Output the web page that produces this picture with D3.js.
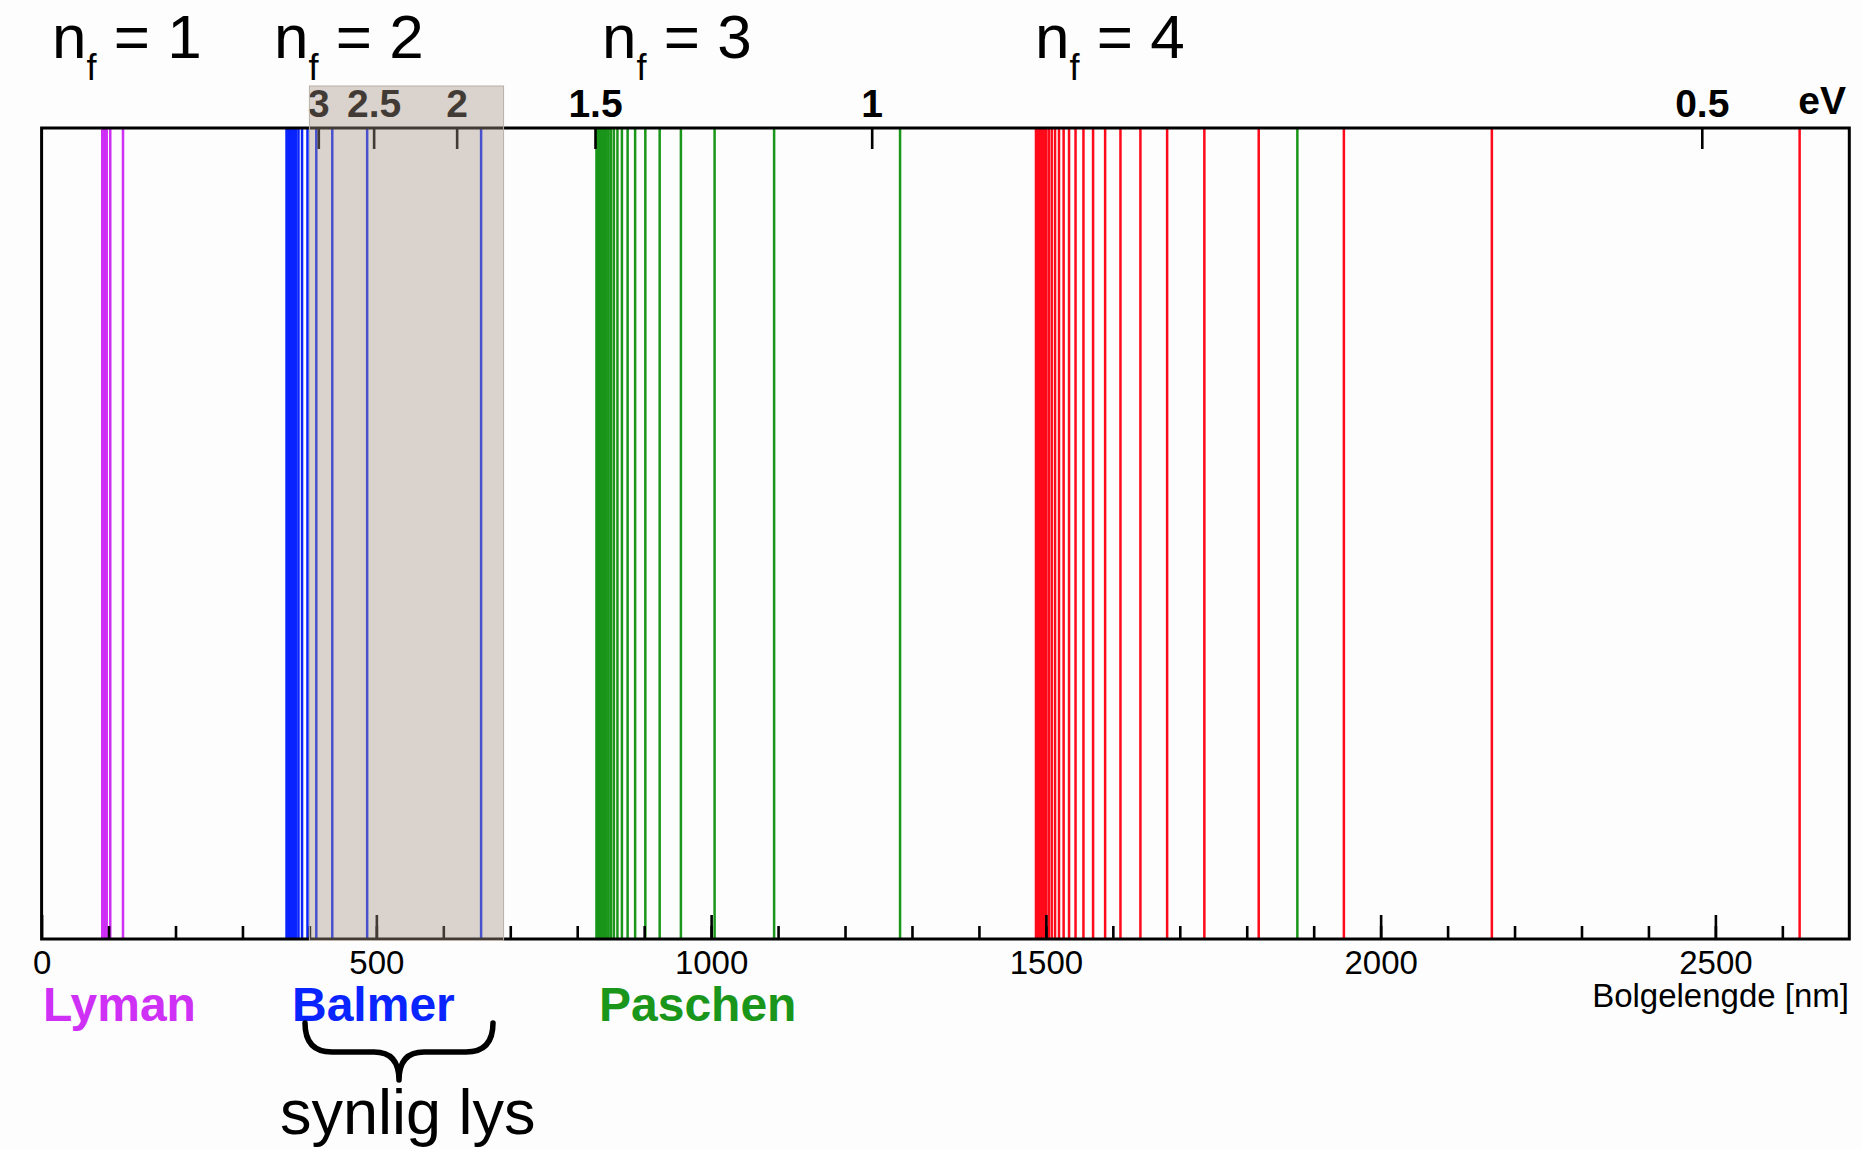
<!DOCTYPE html>
<html>
<head>
<meta charset="utf-8">
<script src="https://cdn.jsdelivr.net/npm/d3@7"></script>
<style>
body{margin:0;background:#fdfdfd;}
svg{display:block;}
</style>
</head>
<body>
<script>
//begin data
// wavelengths in nm (n_i = n_f+1 ... 30)
var lyman=[121.57,102.57,97.25,94.97,93.78,93.07,92.62,92.31,92.10,91.94,91.81,91.72,91.64,91.58,91.53,
           91.49,91.46,91.43,91.40,91.38,91.36,91.35,91.33,91.32,91.31,91.30,91.29,91.28,91.28];
var balmer=[656.46,486.27,434.17,410.29,397.12,389.01,383.65,379.90,377.17,375.12,373.54,372.30,371.30,370.49,
            369.82,369.26,368.79,368.38,368.04,367.74,367.48,367.25,367.05,366.87,366.71,366.57,366.44,366.33];
var paschen=[1875.6,1282.2,1094.1,1005.2,954.86,923.15,901.74,886.52,875.29,866.74,860.07,854.77,850.48,846.96,
             844.03,841.56,839.47,837.68,836.13,834.78,833.60,832.57,831.65,830.84,830.11,829.46,828.87];
var brackett=[2625.8,2166.1,1945.1,1817.9,1736.7,1681.1,1641.2,1611.4,1588.5,1570.5,1556.1,1544.3,1534.6,1526.5,
              1519.6,1513.7,1508.7,1504.3,1500.5,1497.1,1494.2,1491.5,1489.2,1487.1,1485.2];
var seriesNames=["Lyman","Balmer","Paschen","Brackett"];
var nfValues=[1,2,3,4];
var nmTicks=[0,500,1000,1500,2000,2500];
var evTicks=[3,2.5,2,1.5,1,0.5];
var visibleRange=[400,690];
var HC=1239.84;//eV*nm
//end data

var w=1862,h=1149;
var top_=128,bottom=939;
var colors=["#cf30f5","#0a24ff","#1a961a","#ff0a1a"];
var font="'Liberation Sans', Arial, Helvetica, sans-serif";

var svg=d3.select("body").append("svg")
    .attr("width",w)
    .attr("height",h);
svg.append("rect")
    .attr("width",w)
    .attr("height",h)
    .attr("fill","#fdfdfd");

var x=d3.scaleLinear().domain([0,2700]).range([41.6,1849.3]);

//spectral lines
var allSeries=[lyman,balmer,paschen,brackett];
allSeries.forEach(function(s,i){
    svg.append("g").selectAll("line")
    .data(s)
    .enter().append("line")
    .attr("x1",function(d){return x(d);})
    .attr("x2",function(d){return x(d);})
    .attr("y1",top_)
    .attr("y2",bottom)
    .attr("stroke",colors[i])
    .attr("stroke-width",2.5);
});

//frame
svg.append("rect")
    .attr("x",x(0))
    .attr("y",top_)
    .attr("width",x(2700)-x(0))
    .attr("height",bottom-top_)
    .attr("fill","none")
    .attr("stroke","#000")
    .attr("stroke-width",3);

//bottom axis, minor + major
var gMinor=svg.append("g")
    .attr("transform","translate(0,"+bottom+")")
    .call(d3.axisBottom(x).tickValues(d3.range(100,2700,100)).tickSize(-13).tickSizeOuter(0).tickFormat(""));
var gMajor=svg.append("g")
    .attr("transform","translate(0,"+bottom+")")
    .call(d3.axisBottom(x).tickValues(nmTicks).tickSize(-24).tickSizeOuter(0).tickPadding(12).tickFormat(d3.format("d")));
gMajor.attr("font-size",33).attr("font-family",font);

//top axis in eV
var gTop=svg.append("g")
    .attr("transform","translate(0,"+top_+")")
    .call(d3.axisTop(x).tickValues(evTicks.map(function(e){return HC/e;}))
        .tickSize(-21).tickSizeOuter(0).tickPadding(11)
        .tickFormat(function(d,i){return evTicks[i];}));
gTop.attr("font-size",39).attr("font-family",font).attr("font-weight","bold");

[gMinor,gMajor,gTop].forEach(function(g){
    g.select(".domain").remove();
    g.selectAll(".tick line").attr("stroke","#000").attr("stroke-width",2.6);
    g.selectAll(".tick text").attr("fill","#000");
});

svg.append("text")
    .attr("x",1846)
    .attr("y",114)
    .attr("text-anchor","end")
    .style("font-family",font)
    .style("font-weight","bold")
    .style("font-size","39px")
    .text("eV");

svg.append("text")
    .attr("x",1849)
    .attr("y",1007)
    .attr("text-anchor","end")
    .style("font-family",font)
    .style("font-size","33px")
    .text("Bolgelengde [nm]");

//visible light box (on top)
svg.append("rect")
    .attr("x",x(visibleRange[0]))
    .attr("y",86)
    .attr("width",x(visibleRange[1])-x(visibleRange[0]))
    .attr("height",bottom+1.5-86)
    .attr("fill","rgb(165,147,132)")
    .attr("fill-opacity",0.4)
    .attr("stroke","#b8b0a8")
    .attr("stroke-width",1);

//n_f labels
var nfX=[52,274,602,1035];
nfValues.forEach(function(n,i){
    var t=svg.append("text")
        .attr("x",nfX[i])
        .attr("y",58)
        .style("font-family",font)
        .style("font-size","62px")
        .attr("fill","#000");
    t.append("tspan").text("n");
    t.append("tspan").attr("dy",22).style("font-size","36px").text("f");
    t.append("tspan").attr("dy",-22).text(" = "+n);
});

//series names
var nameX=[43,292,599];
[0,1,2].forEach(function(i){
    svg.append("text")
        .attr("x",nameX[i])
        .attr("y",1021)
        .style("font-family",font)
        .style("font-weight","bold")
        .style("font-size","48px")
        .attr("fill",colors[i])
        .text(seriesNames[i]);
});

//brace
svg.append("path")
    .attr("d","M305,1023 Q305,1052 332,1052 L374,1052 Q399,1052 399,1080 Q399,1052 424,1052 L466,1052 Q493,1052 493,1023")
    .attr("fill","none")
    .attr("stroke","#000")
    .attr("stroke-width",5.5)
    .attr("stroke-linecap","round")
    .attr("stroke-linejoin","round");

svg.append("text")
    .attr("x",280)
    .attr("y",1134)
    .style("font-family",font)
    .style("font-size","63px")
    .attr("fill","#000")
    .text("synlig lys");
</script>
</body>
</html>
